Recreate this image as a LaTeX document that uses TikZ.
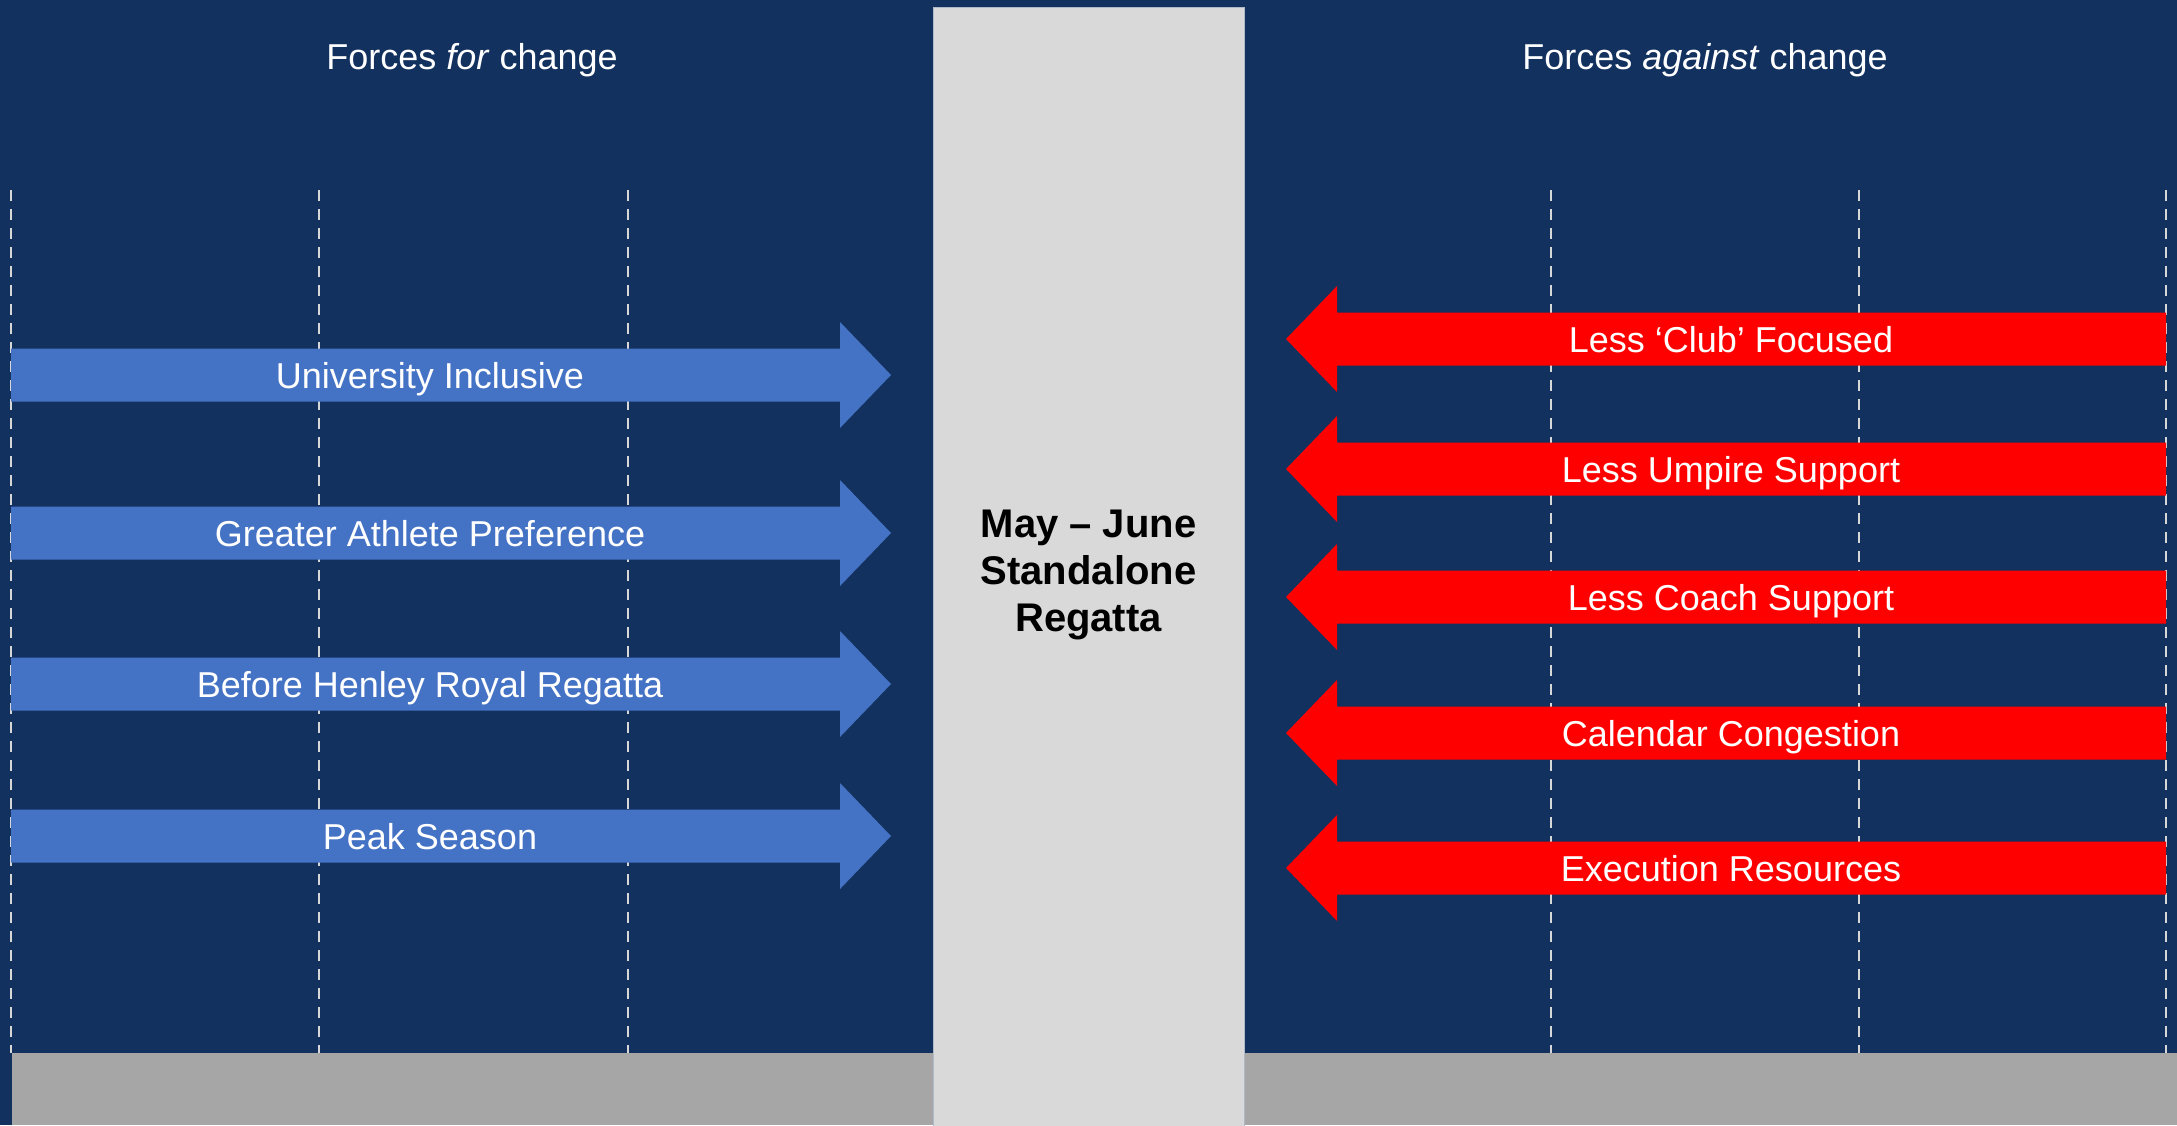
\documentclass[tikz,border=0pt]{standalone}
\usepackage{fontspec}
\setmainfont{Liberation Sans}
\definecolor{navy}{RGB}{18,49,94}
\definecolor{centergray}{RGB}{217,217,217}
\definecolor{floorgray}{RGB}{166,166,166}
\definecolor{forblue}{RGB}{68,114,196}
\definecolor{againstred}{RGB}{255,0,0}
\definecolor{dashgray}{RGB}{215,215,215}
\definecolor{boxedge}{RGB}{175,185,200}
\begin{document}
\begin{tikzpicture}[x=0.5pt,y=-0.5pt,
  arrowtext/.style={text=white,font=\fontsize{18}{22}\selectfont,inner sep=0pt,anchor=base},
  headtext/.style={text=white,font=\fontsize{18}{22}\selectfont,inner sep=0pt,anchor=base},
  guide/.style={draw=dashgray,line width=1pt,dash pattern=on 5.5pt off 4pt},
  forarrow/.style={fill=forblue},
  againstarrow/.style={fill=againstred},
  centerbox/.style={fill=centergray,draw=boxedge,line width=0.5pt}]
\fill[navy] (0,0) rectangle (2177,1125);
\useasboundingbox (0,0) rectangle (2177,1125);
% guide lines
\foreach \x in {11,319,628,1551,1859,2166}
  \draw[guide] (\x,190) -- (\x,1053);
% floor
\fill[floorgray] (12,1053) rectangle (2177,1125);
% centre column
\draw[centerbox] (933,7) rectangle (1244,1130);
\node[font=\bfseries\fontsize{20}{23.5}\selectfont,align=center,inner sep=0pt,anchor=base,text=black]
  (center) at (1088.5,631) {May – June\\Standalone\\Regatta};
% titles
\node[headtext] (fortitle) at (472,69) {Forces \textit{for} change};
\node[headtext] (againsttitle) at (1705,69) {Forces \textit{against} change};
% forces for
\foreach \y/\t [count=\i] in {375/University Inclusive,533/Greater Athlete Preference,684/Before Henley Royal Regatta,836/Peak Season}{
  \fill[forarrow] (11,\y-26.5) -- (840,\y-26.5) -- (840,\y-53) -- (891,\y)
     -- (840,\y+53) -- (840,\y+26.5) -- (11,\y+26.5) -- cycle;
  \node[arrowtext] (for\i) at (430,\y+13) {\t};
}
% forces against
\foreach \y/\t [count=\i] in {339/Less ‘Club’ Focused,469/Less Umpire Support,597/Less Coach Support,733/Calendar Congestion,868/Execution Resources}{
  \fill[againstarrow] (2166,\y-26.5) -- (1337,\y-26.5) -- (1337,\y-53) -- (1286,\y)
     -- (1337,\y+53) -- (1337,\y+26.5) -- (2166,\y+26.5) -- cycle;
  \node[arrowtext] (against\i) at (1731,\y+13) {\t};
}
\end{tikzpicture}
\end{document}
